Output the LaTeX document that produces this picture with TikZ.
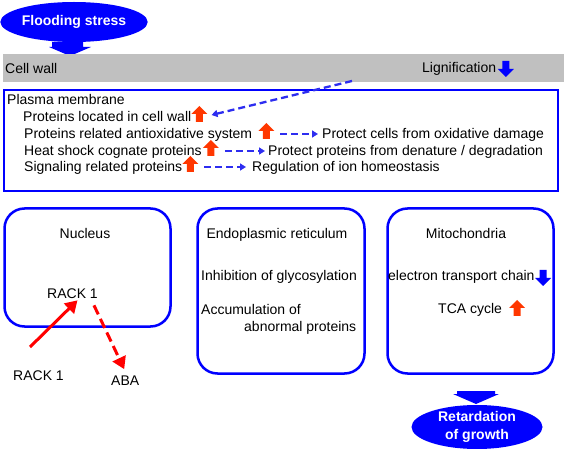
\documentclass[tikz,border=0pt]{standalone}
\usepackage{fontspec}
\setmainfont{Liberation Sans}
\usetikzlibrary{arrows.meta, calc, positioning, shapes.geometric}
\definecolor{cellblue}{RGB}{0,0,255}
\definecolor{dashblue}{RGB}{45,45,240}
\definecolor{uporange}{RGB}{255,55,0}
\definecolor{wallgray}{RGB}{192,192,192}
\tikzset{
  txt/.style={inner sep=0pt, anchor=base west, font=\fontsize{14}{16}\selectfont},
  title/.style={txt, anchor=base},
  organelle/.style={draw=cellblue, line width=2.5pt, rounded corners=20pt, inner sep=0pt},
  bluebubble/.style={ellipse, fill=cellblue, text=white, inner sep=0pt, align=center,
    font=\fontsize{14}{18}\selectfont\bfseries},
  dasharr/.style={draw=dashblue, line width=2.3pt, dash pattern=on 7pt off 4pt,
    -{Triangle[length=6pt,width=7pt]}},
  redarr/.style={draw=red, line width=3pt, -{Triangle[length=12pt,width=14pt]}},
  pics/upbox/.style={code={
    \fill[uporange] (-3.5,0) -- (-3.5,-8) -- (-8,-8) -- (0,-16) -- (8,-8) -- (3.5,-8) -- (3.5,0) -- cycle;}},
  pics/downbox/.style={code={
    \fill[cellblue] (-3.5,-16) -- (-3.5,-8) -- (-8,-8) -- (0,0) -- (8,-8) -- (3.5,-8) -- (3.5,-16) -- cycle;}}
}
\begin{document}
\begin{tikzpicture}[x=1pt, y=-1pt]
\useasboundingbox (0,0) rectangle (568,449);
% Flooding stress and cell wall
\node[bluebubble, minimum width=132pt, minimum height=40pt] (flood) at (74,22) {Flooding stress};
\fill[cellblue] (52,42) -- (83,42) -- (83,47) -- (91,47) -- (70,56) -- (49,47) -- (52,47) -- cycle;
\node[fill=wallgray, minimum width=561pt, minimum height=28pt, inner sep=0pt] (wall) at (283.5,68) {};
\node[txt] (cw) at (5,74) {Cell wall};
\node[txt] (lig) at (422,73) {Lignification};
\pic at ($(lig.base east)+(9.5,4)$) {downbox};
\coordinate (ligfoot) at (352,81);
% Plasma membrane
\node[draw=cellblue, line width=2pt, minimum width=554pt, minimum height=101pt, inner sep=0pt] (pm) at (281,140.5) {};
\node[txt] (pmt) at (7,105) {Plasma membrane};
\node[txt] (pm1) at (23,122) {Proteins located in cell wall};
\node[txt] (pm2) at (24,139) {Proteins related antioxidative system};
\node[txt] (pm3) at (24,156) {Heat shock cognate proteins};
\node[txt] (pm4) at (24,172) {Signaling related proteins};
\coordinate (up1) at ($(pm1.base east)+(8,0)$);
\coordinate (up2) at ($(pm2.base east)+(14,0)$);
\coordinate (up3) at ($(pm3.base east)+(9,0)$);
\coordinate (up4) at ($(pm4.base east)+(8,0)$);
\foreach \u in {up1,up2,up3,up4} \pic at (\u) {upbox};
\node[txt] (eff2) at (322,139) {Protect cells from oxidative damage};
\node[txt] (eff3) at (268,156) {Protect proteins from denature / degradation};
\node[txt] (eff4) at (252,172) {Regulation of ion homeostasis};
\coordinate (d2) at ($(up2)+(14,-5)$);
\coordinate (d3) at ($(up3)+(14,-5)$);
\coordinate (d4) at ($(up4)+(14,-5)$);
\draw[dasharr] (ligfoot) -- ($(up1)+(12,-7)$);
\draw[dasharr, shorten >=4pt] (d2) -- (d2 -| eff2.west);
\draw[dasharr, shorten >=3pt] (d3) -- (d3 -| eff3.west);
\draw[dasharr, shorten >=6pt] (d4) -- (d4 -| eff4.west);
% Nucleus
\node[organelle, minimum width=166pt, minimum height=118pt] (nuc) at (87.5,267.5) {};
\node[title] (nuct) at (85,239) {Nucleus};
\node[txt] (rackin) at (47,299) {RACK 1};
\node[txt] (rackout) at (13,380) {RACK 1};
\node[txt] (aba) at (111,385) {ABA};
\coordinate (racktail) at (30,347);
\draw[redarr] (racktail) -- ($(rackin.south)+(5,1)$);
\draw[redarr, dash pattern=on 10pt off 5pt] ($(rackin.south east)+(-4,6)$) -- ($(aba.north)+(-1,-6)$);
% Endoplasmic reticulum
\node[organelle, minimum width=167pt, minimum height=165pt] (er) at (281,291) {};
\node[title] (ert) at (277,239) {Endoplasmic reticulum};
\node[txt] (er1) at (201,281) {Inhibition of glycosylation};
\node[txt] (er2) at (201,315) {Accumulation of};
\node[txt] (er3) at (244,331) {abnormal proteins};
% Mitochondria
\node[organelle, minimum width=166pt, minimum height=165pt] (mito) at (470.5,291) {};
\node[title] (mitot) at (466,239) {Mitochondria};
\node[txt] (etc) at (388,281) {electron transport chain};
\node[txt] (tca) at (438,313) {TCA cycle};
\pic at ($(etc.base east)+(8.5,5)$) {downbox};
\pic at ($(tca.base east)+(15,3)$) {upbox};
% Retardation of growth
\fill[cellblue] (457,391) -- (495,391) -- (495,394) -- (499,394) -- (476,404) -- (453,394) -- (457,394) -- cycle;
\node[bluebubble, minimum width=131pt, minimum height=42pt] (retard) at (477,427) {Retardation\\of growth};
\end{tikzpicture}
\end{document}
